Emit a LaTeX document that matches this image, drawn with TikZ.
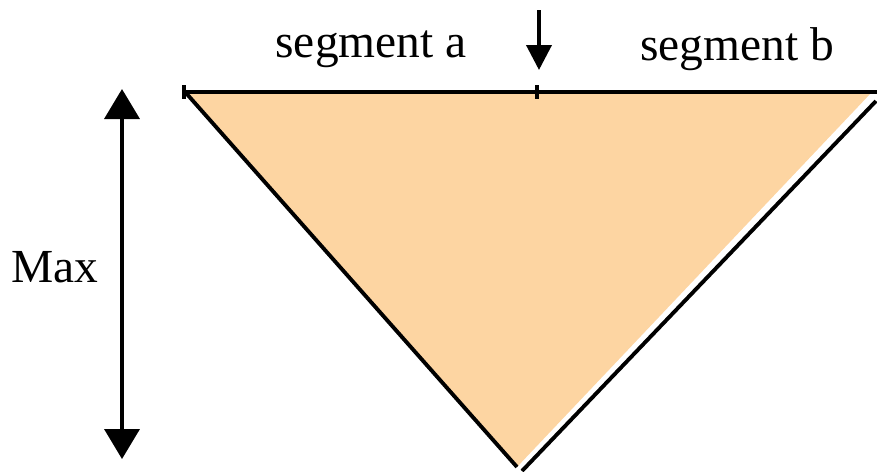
\documentclass[tikz,border=0pt]{standalone}
\usepackage{fontspec}
\setmainfont{Liberation Serif}
\usetikzlibrary{arrows.meta,positioning,calc}
\definecolor{peach}{RGB}{253,213,162}

\begin{document}
\begin{tikzpicture}[x=0.02cm, y=-0.02cm,
  lbl/.style={font=\fontsize{27}{30}\selectfont, inner sep=0pt},
  rule/.style={line width=2.2pt, black}]

\useasboundingbox (0,0) rectangle (877,471);

% ================= TRIANGLE =================
\coordinate (tl) at (186,93);
\coordinate (tr) at (871,93);
\coordinate (apex) at (517,467);

\fill[peach] (tl) -- (tr) -- (apex) -- cycle;
\draw[rule] (tl) -- (apex);
\draw[rule] (876,101) -- (522,471);

% Top scale
\coordinate (sl) at (184,92);
\coordinate (sm) at (537,92);
\coordinate (sr) at (877,92);
\draw[rule] (sl) -- (sr);
\draw[rule] ($(sl)+(0,-7)$) -- ($(sl)+(0,7)$);
\draw[rule] ($(sm)+(0,-7)$) -- ($(sm)+(0,7)$);

% Split marker
\coordinate (mk) at (539,10);
\coordinate (mkend) at (539,70);
\draw[rule, -{Triangle[width=0.5cm,length=0.5cm]}] (mk) -- (mkend);

% Labels
\node[lbl] (sega) at (371,49) {segment a};
\node[lbl] (segb) at (737,49) {segment b};

% ================= MAX HEIGHT =================
\coordinate (mt) at (122,89);
\coordinate (mb) at (122,459);
\draw[rule, {Triangle[width=0.7cm,length=0.6cm]}-{Triangle[width=0.7cm,length=0.6cm]}] (mt) -- (mb);
\node[lbl] (max) at (55,267) {Max};

\end{tikzpicture}
\end{document}
